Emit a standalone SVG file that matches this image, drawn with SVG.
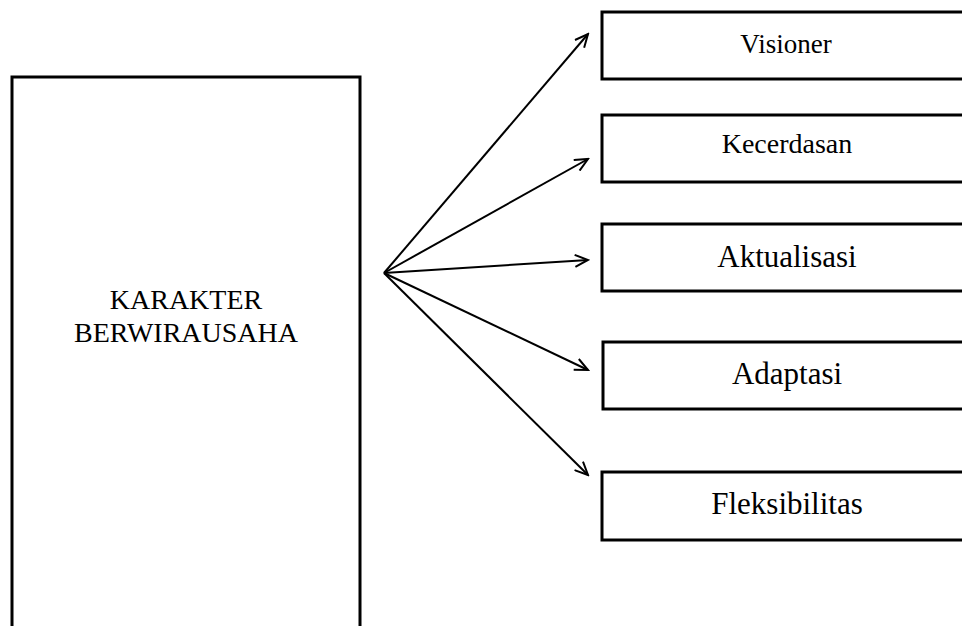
<svg xmlns="http://www.w3.org/2000/svg" width="962" height="626" viewBox="0 0 962 626">
<defs>
<style>
.box{fill:#fff;stroke:#000;stroke-width:3}
.lbl{font-family:"Liberation Serif","Times New Roman",serif;fill:#000;text-anchor:middle}
.con{stroke:#000;stroke-width:2;fill:none;marker-end:url(#ah)}
</style>
<marker id="ah" markerWidth="16" markerHeight="14" refX="14" refY="7" orient="auto" markerUnits="userSpaceOnUse">
<path d="M1,1 L14,7 L1,13" fill="none" stroke="#000" stroke-width="2"/>
</marker>
</defs>
<rect width="962" height="626" fill="#fff"/>
<g id="karakter">
<rect class="box" x="12" y="77" width="348" height="600"/>
<text class="lbl" x="186" y="309" font-size="28">KARAKTER</text>
<text class="lbl" x="186" y="342" font-size="28">BERWIRAUSAHA</text>
</g>
<g id="visioner">
<rect class="box" x="602" y="12" width="400" height="67"/>
<text class="lbl" x="786" y="53" font-size="27">Visioner</text>
</g>
<g id="kecerdasan">
<rect class="box" x="602" y="115" width="400" height="67"/>
<text class="lbl" x="787" y="153" font-size="28">Kecerdasan</text>
</g>
<g id="aktualisasi">
<rect class="box" x="602" y="224" width="400" height="67"/>
<text class="lbl" x="787" y="267" font-size="31">Aktualisasi</text>
</g>
<g id="adaptasi">
<rect class="box" x="603" y="342" width="400" height="67"/>
<text class="lbl" x="787" y="384" font-size="31">Adaptasi</text>
</g>
<g id="fleksibilitas">
<rect class="box" x="602" y="472" width="400" height="68"/>
<text class="lbl" x="787" y="514" font-size="31">Fleksibilitas</text>
</g>
<g id="connectors">
<line class="con" x1="384" y1="273" x2="588" y2="34"/>
<line class="con" x1="384" y1="273" x2="588" y2="159"/>
<line class="con" x1="384" y1="273" x2="588" y2="260"/>
<line class="con" x1="384" y1="273" x2="588" y2="370"/>
<line class="con" x1="384" y1="273" x2="588" y2="475"/>
</g>
</svg>
